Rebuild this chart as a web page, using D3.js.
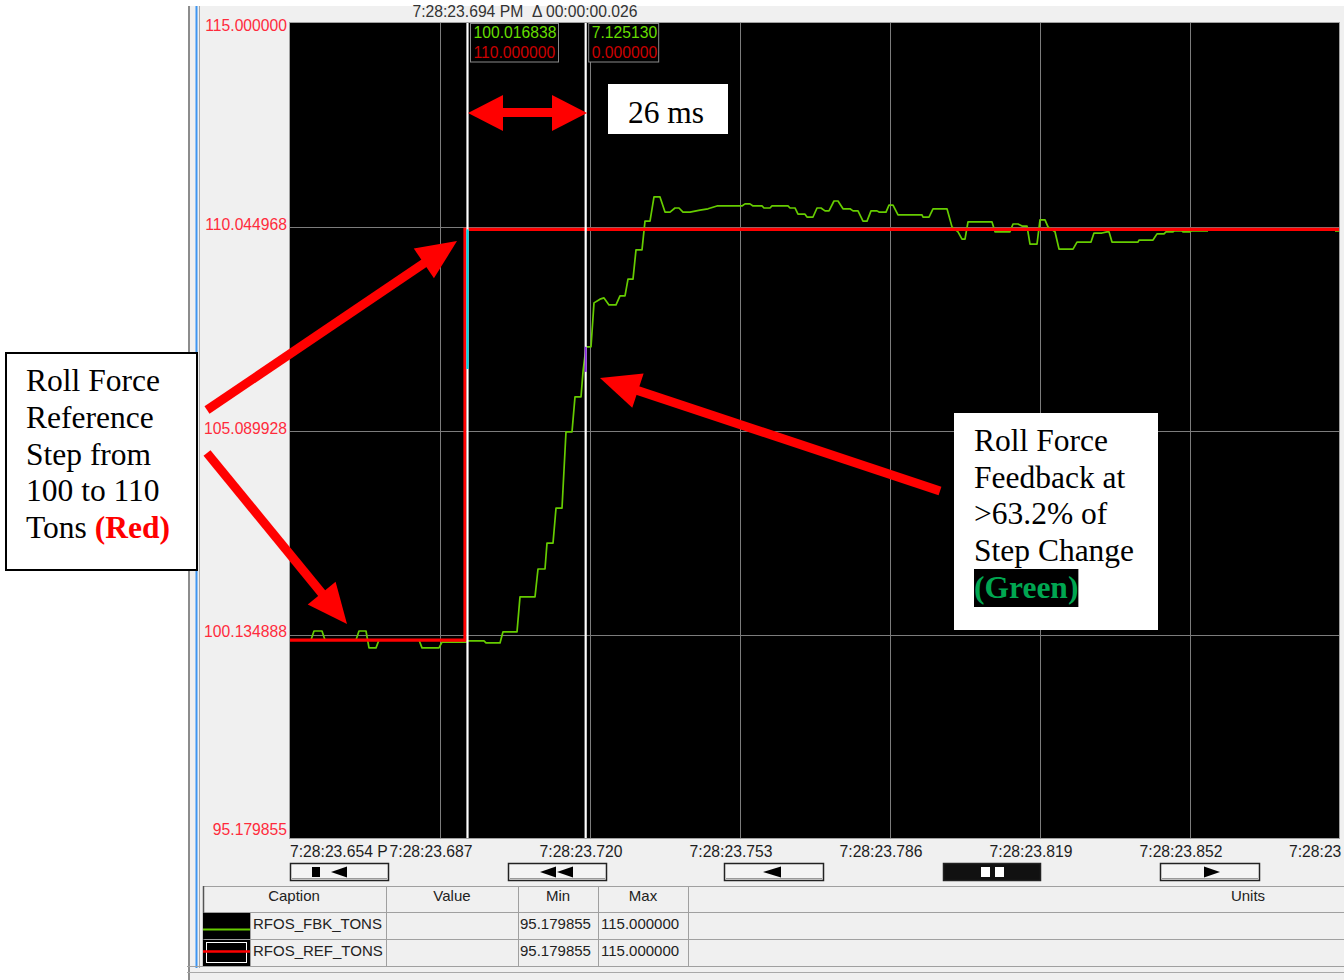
<!DOCTYPE html>
<html>
<head>
<meta charset="utf-8">
<script src="https://cdn.jsdelivr.net/npm/d3@7/dist/d3.min.js"></script>
<style>
  html, body { margin: 0; padding: 0; background: #ffffff; }
  svg { display: block; }
  .ui { font-family: "Liberation Sans", Arial, sans-serif; font-size: 15.7px; }
  .tb { font-family: "Liberation Sans", Arial, sans-serif; font-size: 15px; }
  .serif { font-family: "Liberation Serif", "Times New Roman", serif; font-size: 31.5px; }
</style>
</head>
<body>
<svg id="chart" width="1344" height="980"></svg>
<script>
// ---------------- DATA ----------------
// time in ms after 7:28:23.000 PM
const fbkTime = [654.95, 659.57, 660.23, 661.99, 662.65, 669.47, 670.13, 671.67, 672.33, 673.87,
  674.53, 683.33, 683.99, 687.73, 688.39, 693.67, 694.11, 697.63, 698.07, 701.15,
  701.81, 704.89, 705.55, 708.85, 709.51, 711.05, 711.49, 712.81, 713.47, 714.79,
  715.67, 716.99, 717.65, 718.97, 719.41, 720.07, 721.17, 721.83, 723.15, 724.03,
  725.13, 726.67, 727.55, 728.65, 729.31, 730.41, 731.07, 732.39, 733.05, 734.15,
  735.03, 736.35, 737.45, 738.55, 739.65, 740.53, 741.41, 742.95, 745.15, 746.91,
  748.89, 754.39, 755.05, 756.15, 756.81, 758.79, 759.23, 760.55, 760.99, 764.51,
  764.95, 766.05, 766.71, 768.25, 768.69, 770.01, 770.89, 771.77, 772.65, 773.53,
  774.63, 775.51, 776.61, 778.15, 778.81, 779.91, 781.01, 781.89, 782.77, 784.09,
  784.53, 786.07, 786.73, 787.61, 788.71, 793.99, 794.21, 795.53, 796.41, 799.49,
  800.59, 801.91, 802.79, 803.45, 804.11, 809.39, 810.05, 813.35, 814.01, 815.11,
  815.99, 817.09, 817.75, 819.29, 819.95, 821.05, 821.71, 823.25, 824.13, 827.21,
  828.09, 831.17, 831.83, 833.59, 834.69, 835.13, 835.79, 841.51, 841.73, 844.81,
  845.69, 847.23, 847.67, 849.21, 849.43, 851.19, 851.41, 852.95, 853.17, 856.91];
const fbkValue = [100.00, 100.00, 100.22, 100.22, 100.00, 100.00, 100.22, 100.22, 99.81, 99.81,
  100.00, 100.00, 99.81, 99.81, 99.95, 99.95, 99.98, 99.98, 99.93, 99.93,
  100.20, 100.20, 101.05, 101.05, 101.73, 101.73, 102.36, 102.36, 103.21, 103.21,
  105.07, 105.07, 105.92, 105.92, 106.53, 107.14, 107.14, 108.21, 108.30, 108.33,
  108.16, 108.16, 108.38, 108.38, 108.79, 108.79, 109.50, 109.50, 110.20, 110.20,
  110.79, 110.79, 110.42, 110.42, 110.52, 110.52, 110.42, 110.42, 110.47, 110.50,
  110.57, 110.57, 110.62, 110.62, 110.57, 110.57, 110.52, 110.52, 110.57, 110.57,
  110.52, 110.52, 110.37, 110.37, 110.30, 110.30, 110.52, 110.52, 110.45, 110.45,
  110.69, 110.69, 110.50, 110.50, 110.45, 110.45, 110.20, 110.20, 110.45, 110.45,
  110.42, 110.42, 110.59, 110.59, 110.35, 110.35, 110.30, 110.30, 110.50, 110.50,
  110.06, 109.94, 109.76, 109.76, 110.18, 110.18, 109.94, 109.94, 110.13, 110.13,
  110.08, 110.08, 109.64, 109.64, 110.23, 110.23, 110.06, 109.94, 109.52, 109.52,
  109.69, 109.69, 109.91, 109.91, 109.94, 109.94, 109.69, 109.69, 109.74, 109.74,
  109.89, 109.89, 109.94, 109.94, 109.96, 109.96, 109.94, 109.94, 109.96, 109.96];
const fbkTailTime = [884.85, 885.95];
const fbkTailValue = [109.96, 109.96];

const refTime = [654.95, 693.45, 693.45, 885.95];
const refValue = [100.0, 100.0, 110.0, 110.0];

const yTickValues = [115.000000, 110.044968, 105.089928, 100.134888, 95.179855];
const yTickLabels = ["115.000000", "110.044968", "105.089928", "100.134888", "95.179855"];

const xTickTimes = [654.95, 687.95, 720.95, 753.95, 786.95, 819.95, 852.95, 885.95];
const xTickLabels = ["7:28:23.654 P", "7:28:23.687", "7:28:23.720", "7:28:23.753",
  "7:28:23.786", "7:28:23.819", "7:28:23.852", "7:28:23"];

const cursorTimes = [694, 720];
const readoutFbk = ["100.016838", "7.125130"];
const readoutRef = ["110.000000", "0.000000"];
const headerText = "7:28:23.694 PM  \u0394 00:00:00.026";

const tableHeaders = ["Caption", "Value", "Min", "Max", "Units"];
const tableCaptions = ["RFOS_FBK_TONS", "RFOS_REF_TONS"];
const tableMin = ["95.179855", "95.179855"];
const tableMax = ["115.000000", "115.000000"];

const leftNote = ["Roll Force", "Reference", "Step from", "100 to 110", "Tons "];
const leftNoteEm = "(Red)";
const rightNote = ["Roll Force", "Feedback at", ">63.2% of", "Step Change"];
const rightNoteEm = "(Green)";
const spanNote = "26 ms";

// ---------------- LAYOUT ----------------
const svg = d3.select("#chart");
const P = { left: 290, right: 1339, top: 23, bottom: 838 };

const x = d3.scaleLinear().domain([654.95, 885.95]).range([290, 1340]);
const y = d3.scaleLinear().domain([95.179855, 115]).range([838, 24]);

// panel background
svg.append("rect").attr("x", 190).attr("y", 6).attr("width", 1154).attr("height", 974).attr("fill", "#f0f0f0");
svg.append("line").attr("x1", 189).attr("x2", 189).attr("y1", 6).attr("y2", 980).attr("stroke", "#8c8c8c").attr("stroke-width", 2);
svg.append("line").attr("x1", 196.5).attr("x2", 196.5).attr("y1", 6).attr("y2", 968).attr("stroke", "#3d95f2").attr("stroke-width", 2);
svg.append("line").attr("x1", 199.5).attr("x2", 199.5).attr("y1", 6).attr("y2", 968).attr("stroke", "#a8a8a8").attr("stroke-width", 1);
svg.append("line").attr("x1", 187).attr("x2", 1344).attr("y1", 966.5).attr("y2", 966.5).attr("stroke", "#a0a0a0");
svg.append("line").attr("x1", 187).attr("x2", 1344).attr("y1", 972.5).attr("y2", 972.5).attr("stroke", "#a8a8a8");

// plot area
svg.append("rect").attr("x", P.left - 0.5).attr("y", P.top - 0.5)
  .attr("width", P.right - P.left + 1).attr("height", P.bottom - P.top + 1)
  .attr("fill", "#000").attr("stroke", "#a0a0a0");

svg.append("defs").append("clipPath").attr("id", "clip")
  .append("rect").attr("x", P.left).attr("y", P.top).attr("width", P.right - P.left).attr("height", P.bottom - P.top);

const plot = svg.append("g").attr("clip-path", "url(#clip)");

// grid
plot.selectAll("line.hg").data(yTickValues.slice(1, 4)).enter().append("line")
  .attr("x1", P.left).attr("x2", P.right)
  .attr("y1", d => Math.round(y(d)) + 0.5).attr("y2", d => Math.round(y(d)) + 0.5)
  .attr("stroke", "#7c7c7c").attr("stroke-width", 1);
plot.selectAll("line.vg").data(xTickTimes.slice(1, 7)).enter().append("line")
  .attr("x1", d => Math.round(x(d)) + 0.5).attr("x2", d => Math.round(x(d)) + 0.5)
  .attr("y1", P.top).attr("y2", P.bottom)
  .attr("stroke", "#7c7c7c").attr("stroke-width", 1);

const line = d3.line().x(d => x(d[0])).y(d => y(d[1]));

// green feedback
plot.append("path").datum(d3.zip(fbkTime, fbkValue)).attr("d", line)
  .attr("fill", "none").attr("stroke", "#66cc00").attr("stroke-width", 1.7).attr("stroke-linejoin", "round");
plot.append("path").datum(d3.zip(fbkTailTime, fbkTailValue)).attr("d", line)
  .attr("fill", "none").attr("stroke", "#66cc00").attr("stroke-width", 1.7);

// red reference
plot.append("path").datum(d3.zip(refTime, refValue)).attr("d", line)
  .attr("fill", "none").attr("stroke", "#ff0000").attr("stroke-width", 3.2);

// cursors
plot.selectAll("line.cur").data(cursorTimes).enter().append("line")
  .attr("x1", d => x(d)).attr("x2", d => x(d)).attr("y1", P.top).attr("y2", P.bottom)
  .attr("stroke", "#ffffff").attr("stroke-width", 2.2);
// XOR-looking highlights where cursors cross the traces
plot.append("line").attr("x1", x(cursorTimes[0])).attr("x2", x(cursorTimes[0]))
  .attr("y1", y(110)).attr("y2", y(106.6)).attr("stroke", "#00d4e6").attr("stroke-width", 2.2);
plot.append("line").attr("x1", x(cursorTimes[1])).attr("x2", x(cursorTimes[1]))
  .attr("y1", y(107.14)).attr("y2", y(106.53)).attr("stroke", "#8a2be2").attr("stroke-width", 2);

// readout boxes
const boxW = [88, 70];
cursorTimes.forEach((t, i) => {
  const bx = x(t) + 3;
  svg.append("rect").attr("x", bx).attr("y", 23.5).attr("width", boxW[i]).attr("height", 38.5)
    .attr("fill", "#000").attr("stroke", "#8a8a8a");
  svg.append("text").attr("class", "ui").attr("x", bx + 3).attr("y", 38)
    .attr("fill", "#66dd00").text(readoutFbk[i]);
  svg.append("text").attr("class", "ui").attr("x", bx + 3).attr("y", 58)
    .attr("fill", "#cc0000").text(readoutRef[i]);
});

// header
svg.append("text").attr("class", "ui").attr("x", 525).attr("y", 17).attr("text-anchor", "middle")
  .attr("xml:space", "preserve").style("white-space", "pre")
  .attr("fill", "#333").text(headerText);

// y labels
const yLab = svg.append("g");
yTickValues.forEach((v, i) => {
  let cy = y(v) - 3;
  if (i === 0) cy = y(v) + 1;
  if (i === yTickValues.length - 1) cy = y(v) - 9;
  yLab.append("text").attr("class", "ui").attr("x", 287).attr("y", cy)
    .attr("dy", "0.36em").attr("text-anchor", "end").attr("fill", "#ff2b3c").text(yTickLabels[i]);
});

// x labels
xTickTimes.forEach((t, i) => {
  const last = i === xTickTimes.length - 1;
  const tx = i === 0 ? x(t) : (last ? x(t) - 51 : x(t) - 9);
  svg.append("text").attr("class", "ui").attr("x", tx).attr("y", 857)
    .attr("text-anchor", (i === 0 || last) ? "start" : "middle").attr("fill", "#1e1e1e").text(xTickLabels[i]);
});

// scroll buttons
function button(x0, x1, dark) {
  svg.append("rect").attr("x", x0 + 0.5).attr("y", 863.5).attr("width", x1 - x0).attr("height", 17)
    .attr("fill", dark ? "#111" : "#f4f4f4").attr("stroke", "#222").attr("stroke-width", 1.5);
  if (!dark) {
    svg.append("line").attr("x1", x0 + 2).attr("x2", x1 - 1).attr("y1", 878.5).attr("y2", 878.5).attr("stroke", "#9a9a9a");
  }
}
function tri(tip, base) {
  svg.append("path").attr("d", `M${tip},872 L${base},866.5 L${base},877.5 Z`).attr("fill", "#000");
}
button(290, 388, false);
svg.append("rect").attr("x", 312).attr("y", 867).attr("width", 8).attr("height", 10).attr("fill", "#000");
tri(331, 347);
button(508, 606, false);
tri(540, 556); tri(557, 573);
button(724, 823, false);
tri(763, 781);
button(943, 1040, true);
svg.append("rect").attr("x", 981).attr("y", 867).attr("width", 9).attr("height", 10).attr("fill", "#fff");
svg.append("rect").attr("x", 995).attr("y", 867).attr("width", 9).attr("height", 10).attr("fill", "#fff");
button(1160, 1259, false);
tri(1220, 1204);

// table
const T = { x0: 203, top: 886, h1: 912, r1: 939, r2: 966 };
const cols = [203, 386, 518, 598, 688];
[T.top, T.h1, T.r1].forEach(yy => {
  svg.append("line").attr("x1", T.x0).attr("x2", 1344).attr("y1", yy + 0.5).attr("y2", yy + 0.5)
    .attr("stroke", "#a0a0a0").attr("stroke-width", 1.2);
});
svg.append("line").attr("x1", T.x0 + 0.5).attr("x2", T.x0 + 0.5).attr("y1", T.top).attr("y2", T.r2)
  .attr("stroke", "#555").attr("stroke-width", 1.5);
cols.slice(1).forEach(cx => {
  svg.append("line").attr("x1", cx + 0.5).attr("x2", cx + 0.5).attr("y1", T.top).attr("y2", T.r2)
    .attr("stroke", "#a0a0a0");
});
const headerCenters = [294, 452, 558, 643, 1248];
tableHeaders.forEach((h, i) => {
  svg.append("text").attr("class", "tb").attr("x", headerCenters[i]).attr("y", 901)
    .attr("text-anchor", "middle").attr("fill", "#222").text(h);
});
const rowTops = [T.h1, T.r1];
tableCaptions.forEach((c, i) => {
  const rt = rowTops[i];
  svg.append("rect").attr("x", 203).attr("y", rt + 1).attr("width", 47).attr("height", 26).attr("fill", "#000");
  if (i === 0) {
    svg.append("line").attr("x1", 203).attr("x2", 250).attr("y1", rt + 17.5).attr("y2", rt + 17.5)
      .attr("stroke", "#66cc00").attr("stroke-width", 2);
  } else {
    svg.append("rect").attr("x", 206.5).attr("y", rt + 3.5).attr("width", 40).attr("height", 20)
      .attr("fill", "none").attr("stroke", "#fff").attr("stroke-width", 1);
    svg.append("line").attr("x1", 203).attr("x2", 250).attr("y1", rt + 12.5).attr("y2", rt + 12.5)
      .attr("stroke", "#ff0000").attr("stroke-width", 2.5);
  }
  svg.append("line").attr("x1", 250.5).attr("x2", 250.5).attr("y1", rt).attr("y2", rt + 27).attr("stroke", "#a0a0a0");
  svg.append("text").attr("class", "tb").attr("x", 253).attr("y", rt + 17).attr("fill", "#222").text(c);
  svg.append("text").attr("class", "tb").attr("x", 520).attr("y", rt + 17).attr("fill", "#222").text(tableMin[i]);
  svg.append("text").attr("class", "tb").attr("x", 601).attr("y", rt + 17).attr("fill", "#222").text(tableMax[i]);
});

// ---------------- ANNOTATIONS ----------------
function arrow(x1, y1, x2, y2) {
  const len = Math.hypot(x2 - x1, y2 - y1);
  const ux = (x2 - x1) / len, uy = (y2 - y1) / len;
  const hl = 40, hw = 18;
  const bx = x2 - ux * hl, by = y2 - uy * hl;
  svg.append("line").attr("x1", x1).attr("y1", y1).attr("x2", bx + ux * 2).attr("y2", by + uy * 2)
    .attr("stroke", "#ff0000").attr("stroke-width", 9);
  svg.append("path")
    .attr("d", `M${x2},${y2} L${bx - uy * hw},${by + ux * hw} L${bx + uy * hw},${by - ux * hw} Z`)
    .attr("fill", "#ff0000");
}
arrow(207, 410, 457, 241);
arrow(207, 453, 347, 624);
arrow(940, 491, 600, 378);

// double arrow (26 ms span)
svg.append("line").attr("x1", 500).attr("x2", 555).attr("y1", 112.5).attr("y2", 112.5)
  .attr("stroke", "#ff0000").attr("stroke-width", 9);
svg.append("path").attr("d", "M468,113 L503,95 L503,131 Z").attr("fill", "#ff0000");
svg.append("path").attr("d", "M587,113 L552,95 L552,131 Z").attr("fill", "#ff0000");

svg.append("rect").attr("x", 608).attr("y", 84).attr("width", 120).attr("height", 50).attr("fill", "#fff");
svg.append("text").attr("class", "serif").attr("x", 666).attr("y", 123).attr("text-anchor", "middle")
  .attr("fill", "#000").text(spanNote);

// left note
svg.append("rect").attr("x", 6).attr("y", 353).attr("width", 191).attr("height", 217)
  .attr("fill", "#fff").attr("stroke", "#000").attr("stroke-width", 2);
leftNote.forEach((s, i) => {
  const t = svg.append("text").attr("class", "serif").attr("x", 26).attr("y", 391 + i * 36.8)
    .attr("fill", "#000").attr("xml:space", "preserve").style("white-space", "pre").text(s);
  if (i === leftNote.length - 1) {
    t.append("tspan").attr("fill", "#ff0000").attr("font-weight", "bold").text(leftNoteEm);
  }
});

// right note
svg.append("rect").attr("x", 954).attr("y", 413).attr("width", 204).attr("height", 217).attr("fill", "#fff");
rightNote.forEach((s, i) => {
  svg.append("text").attr("class", "serif").attr("x", 974).attr("y", 451 + i * 36.7)
    .attr("fill", "#000").text(s);
});
const emBg = svg.append("rect").attr("x", 974).attr("y", 569).attr("height", 38).attr("fill", "#000");
const em = svg.append("text").attr("class", "serif").attr("x", 974).attr("y", 598)
  .attr("fill", "#00a651").attr("font-weight", "bold").text(rightNoteEm);
emBg.attr("width", em.node().getBBox().width);
</script>
</body>
</html>
